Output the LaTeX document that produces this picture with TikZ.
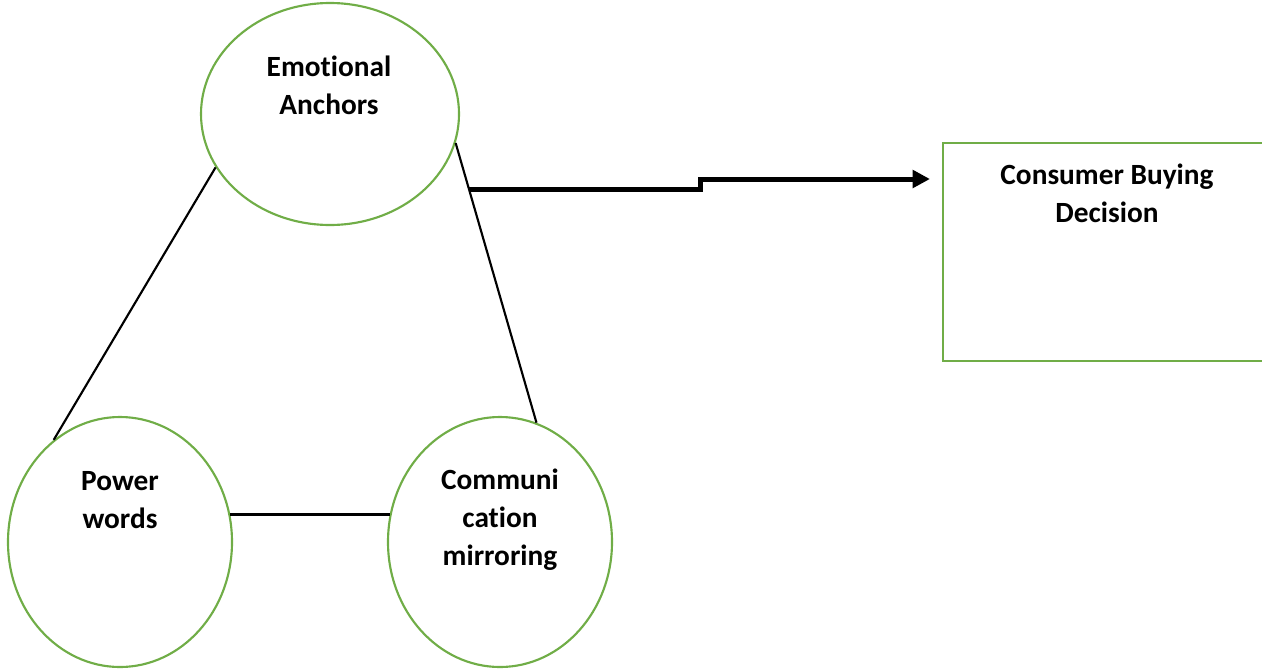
\documentclass[tikz,border=0pt]{standalone}
\usepackage{fontspec}
\setmainfont[Ligatures=NoCommon]{Carlito}
\usetikzlibrary{shapes.geometric,arrows.meta,calc}
\definecolor{leaf}{HTML}{70AD47}

\begin{document}
\begin{tikzpicture}[x=0.75pt,y=-0.75pt,
    bubble/.style={draw=leaf,line width=1.6pt,ellipse,inner sep=0pt},
    caption/.style={font=\fontsize{22}{28.5}\selectfont\bfseries,align=center,inner sep=0pt},
    link/.style={line width=1.6pt},
    flow/.style={line width=3.75pt,-{Triangle[length=13pt,width=13pt]}}]
    \useasboundingbox (0,0) rectangle (1262,668);
    \clip (0,0) rectangle (1262,668);
    \node[bubble,minimum width=193.5pt,minimum height=166.5pt] (EA) at (330,114) {};
    \node[bubble,minimum width=168pt,minimum height=187.5pt] (PW) at (120,542) {};
    \node[bubble,minimum width=168pt,minimum height=187.5pt] (CM) at (500,542) {};
    \node[draw=leaf,line width=1.6pt,minimum width=246pt,minimum height=163.5pt] (CBD) at (1107,252) {};
    \node[caption] (EAtext) at (329,85) {Emotional\\Anchors};
    \node[caption] (PWtext) at (120,500) {Power\\words};
    \node[caption] (CMtext) at (500,520) {Communi\\cation\\mirroring};
    \node[caption] (CBDtext) at (1107,193) {Consumer Buying\\Decision};
    \draw[link] (EA.205) -- (PW.123);
    \draw[link] (EA.347) -- (CM.73);
    \draw[link] (PW.14) -- (CM.166);
    \coordinate (fork) at ($(EA.347)!0.165!(CM.73)$);
    \coordinate (tip) at ($(CBD.west)+(-12,-73)$);
    \draw[flow] (fork) -- ++(232,0) |- (tip);
\end{tikzpicture}
\end{document}
